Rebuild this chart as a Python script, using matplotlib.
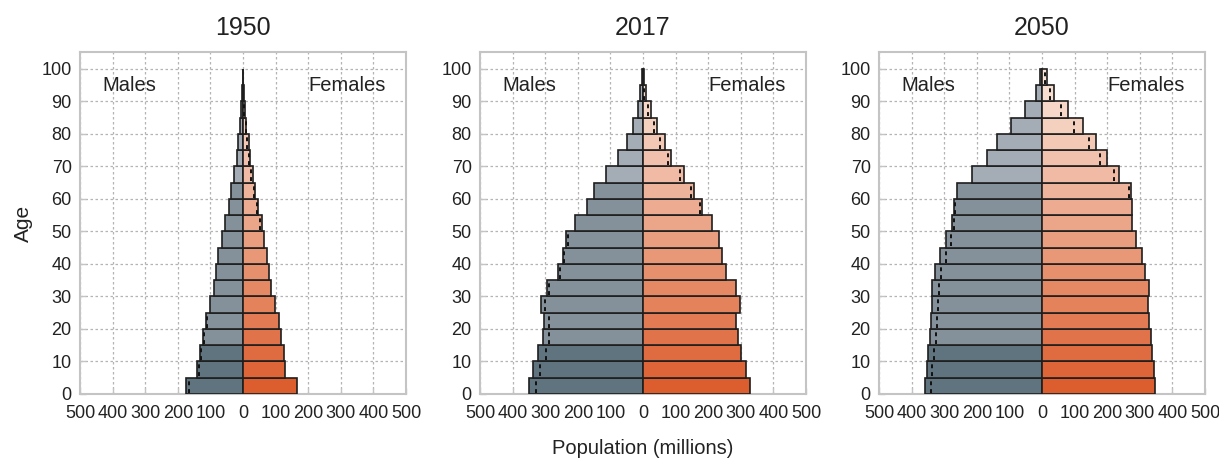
import numpy as np
import matplotlib
matplotlib.use("Agg")
import matplotlib.pyplot as plt
from matplotlib.colors import to_rgb

plt.rcParams['font.family'] = ['Liberation Sans', 'DejaVu Sans']

# age groups (lower bound of each 5-year band)
ages = np.arange(0, 100, 5)
years = ["1950", "2017", "2050"]

# population in millions, bottom band first
male_1950 = [174, 141, 133, 123, 115, 100, 89, 84, 77, 65, 55, 44, 36, 27, 19, 14, 8, 5, 2, 1]
female_1950 = [166, 130, 127, 116, 111, 99, 86, 81, 73, 64, 57, 47, 38, 30, 23, 17, 10, 6, 3, 1]
male_2017 = [351, 338, 323, 308, 304, 313, 294, 260, 246, 235, 208, 173, 149, 113, 77, 50, 31, 16, 8, 2]
female_2017 = [328, 316, 302, 290, 286, 299, 284, 255, 241, 232, 212, 180, 157, 125, 87, 66, 44, 25, 9, 2]
male_2050 = [359, 354, 349, 344, 339, 336, 336, 328, 314, 295, 275, 269, 261, 214, 169, 137, 94, 51, 18, 7]
female_2050 = [347, 343, 337, 335, 329, 324, 327, 316, 307, 287, 276, 276, 274, 236, 198, 166, 125, 81, 36, 15]

# dotted reference marks (None = no mark)
N = None
male_dot_1950 = [166, 135, 129, 119, 111, N, N, N, N, N, N, N, N, N, N, N, N, N, N, N]
female_dot_1950 = [N, N, N, N, N, N, N, N, N, N, 53, 42, 33, 25, 18, 13, 8, 4, N, N]
male_dot_2017 = [329, 316, 298, 289, 289, 300, 287, 255, 242, 230, N, N, N, N, N, N, N, N, N, N]
female_dot_2017 = [N, N, N, N, N, N, N, N, N, N, N, 176, 148, 114, 78, 53, 33, 15, 4, N]
male_dot_2050 = [340, 338, 332, 325, 322, 320, 317, 310, 296, 280, 269, 266, N, N, N, N, N, N, N, N]
female_dot_2050 = [N, N, N, N, N, N, N, N, N, N, N, N, 268, 222, 178, 143, 99, 57, 26, 8]

males = [male_1950, male_2017, male_2050]
females = [female_1950, female_2017, female_2050]
male_dots = [male_dot_1950, male_dot_2017, male_dot_2050]
female_dots = [female_dot_1950, female_dot_2017, female_dot_2050]

# colours
male_cols = []
for a in ages:
    if a < 15:
        male_cols.append('#607480')
    elif a < 65:
        male_cols.append('#84919b')
    else:
        male_cols.append('#a4adb5')
c0 = np.array(to_rgb('#dc5e2f'))
c1 = np.array(to_rgb('#f9e5da'))
female_cols = [tuple(c0 + (c1 - c0) * t) for t in np.linspace(0, 1, len(ages))]

edge = '#1e1e1e'
grid_col = '#b4b4b4'
spine_col = '#c4c4c4'
txt = '#222222'

fig = plt.figure(figsize=(12.19, 4.59), dpi=100)
lefts = [80, 480, 879]
for i in range(3):
    ax = fig.add_axes([lefts[i] / 1219, 65 / 459, 326 / 1219, 342 / 459])
    m = np.array(males[i])
    f = np.array(females[i])
    ax.barh(ages + 2.5, -m, height=5, color=male_cols, edgecolor=edge, linewidth=1.2, zorder=3)
    ax.barh(ages + 2.5, f, height=5, color=female_cols, edgecolor=edge, linewidth=1.2, zorder=3)
    for a, v in zip(ages, male_dots[i]):
        if v is not None:
            ax.vlines(-v, a + 0.4, a + 4.6, colors='#111111', linestyles=(0, (2, 2)), linewidth=1.4, zorder=4)
    for a, v in zip(ages, female_dots[i]):
        if v is not None:
            ax.vlines(v, a + 0.4, a + 4.6, colors='#111111', linestyles=(0, (2, 2)), linewidth=1.4, zorder=4)

    ax.set_xlim(-500, 500)
    ax.set_ylim(0, 105.2)
    ax.set_xticks(np.arange(-500, 501, 100))
    ax.set_xticklabels([str(abs(v)) for v in range(-500, 501, 100)], fontsize=13, color=txt)
    ax.set_yticks(np.arange(0, 101, 10))
    ax.set_yticklabels([str(v) for v in range(0, 101, 10)], fontsize=13, color=txt)
    ax.tick_params(axis='both', direction='in', length=4, width=1, color=spine_col)
    ax.tick_params(axis='x', pad=8)
    ax.tick_params(axis='y', pad=6)
    ax.grid(True, linestyle=(0, (2, 2)), color=grid_col, linewidth=0.9)
    ax.set_axisbelow(True)
    for s in ax.spines.values():
        s.set_color(spine_col)
        s.set_linewidth(1.5)
    ax.set_title(years[i], fontsize=18, color=txt, pad=12)
    ax.text(-348, 95, "Males", fontsize=14.5, color=txt, ha='center', va='center')
    ax.text(320, 95, "Females", fontsize=14.5, color=txt, ha='center', va='center')
    if i == 0:
        ax.set_ylabel("Age", fontsize=15, color=txt, labelpad=6)

fig.text(643 / 1219, 1 - 449 / 459, "Population (millions)", fontsize=14.5, color=txt, ha='center', va='center')

plt.savefig("out.png", dpi=100)
